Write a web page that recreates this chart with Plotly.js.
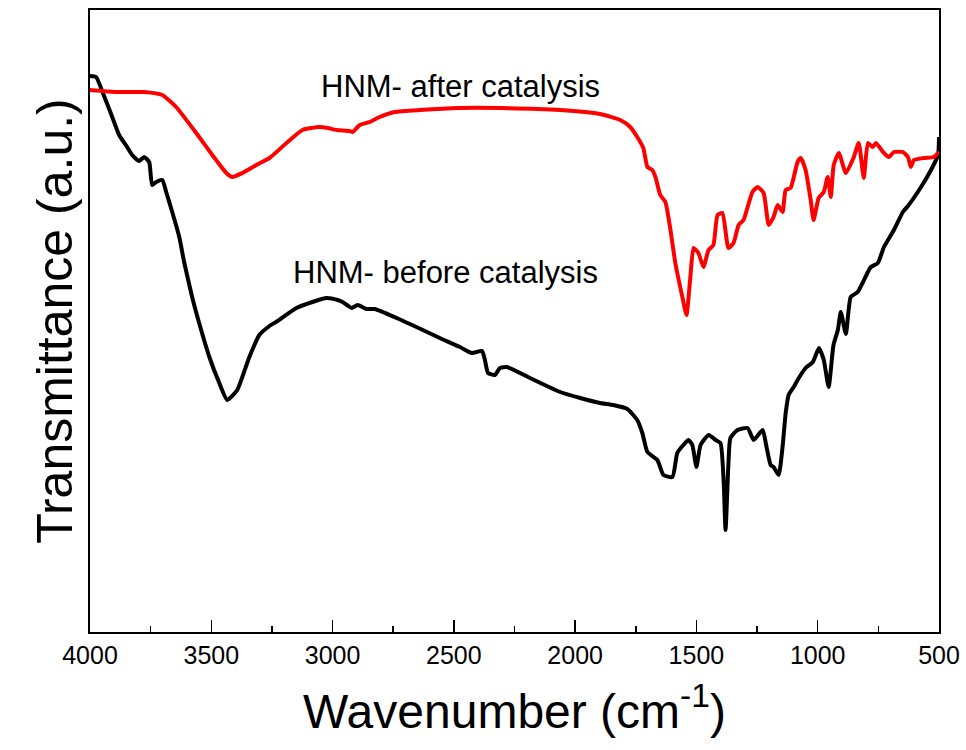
<!DOCTYPE html>
<html>
<head>
<meta charset="utf-8">
<script src="https://cdn.plot.ly/plotly-3.0.1.min.js"></script>
<style>html,body{margin:0;padding:0;background:#fff;}#chart{width:966px;height:750px;}</style>
</head>
<body>
<div id="chart"></div>
<script>
// HNM- before catalysis (black): wavenumber (cm-1) and transmittance (a.u.)
const beforeWavenumber = [4000,3975,3942,3913,3880,3847,3826,3798,3777,3756,3744,3727,3702,3686,3661,3632,3612,3579,3550,3508,3467,3434,3393,3343,3302,3260,3227,3149,3083,3025,2979,2959,2921,2897,2860,2826,2736,2628,2558,2475,2426,2384,2372,2359,2331,2310,2281,2186,2062,1979,1897,1843,1785,1744,1723,1702,1661,1636,1599,1579,1554,1533,1517,1500,1483,1450,1421,1401,1388,1380,1368,1360,1331,1289,1264,1227,1211,1194,1182,1161,1145,1132,1120,1099,1078,1050,1020,995,975,955,935,917,905,884,864,835,793,781,752,727,686,649,628,574,533,504,500];
const beforeT = [556,555,536,518,497,485,477,471,475,470,447,450,452,440,420,395,370,335,309,275,249,232,242,275,297,306,311,324,330,334,332,330,324,327,323,323,314,302,294,285,279,281,272,259,257,264,265,254,240,234,229,227,223,212,199,180,172,157,155,179,187,192,187,165,187,197,192,189,152,102,169,194,202,204,192,202,185,167,165,157,185,219,237,245,254,264,270,284,272,245,287,302,320,298,335,340,360,365,369,385,402,420,426,445,462,477,495];

// HNM- after catalysis (red)
const afterWavenumber = [4000,3888,3777,3702,3645,3562,3496,3438,3413,3372,3314,3260,3190,3124,3054,3021,2983,2930,2917,2888,2847,2806,2744,2640,2475,2310,2062,1897,1814,1773,1744,1719,1702,1682,1669,1649,1628,1607,1587,1558,1541,1525,1512,1492,1471,1450,1430,1413,1393,1368,1347,1326,1306,1269,1248,1223,1202,1182,1165,1145,1132,1112,1083,1070,1050,1029,1017,996,975,959,946,934,913,884,851,831,810,793,773,760,731,707,686,649,628,616,603,562,521,500];
const afterT = [542,540,540,537,525,499,477,459,455,459,467,474,489,502,505,504,502,501,500,507,510,515,520,522,524,524,522,518,512,505,495,484,465,462,455,437,430,402,369,335,317,355,384,379,365,382,387,417,419,384,389,407,412,440,445,439,407,415,427,420,442,444,470,474,462,432,412,434,440,455,435,467,479,459,475,489,454,489,485,489,480,475,480,480,475,465,472,474,475,480];

const seriesNames = ["HNM- before catalysis", "HNM- after catalysis"];

const traces = [
  {x: beforeWavenumber, y: beforeT, type: 'scatter', mode: 'lines', name: seriesNames[0],
   line: {color: '#000000', width: 4, shape: 'spline', smoothing: 0.5}},
  {x: afterWavenumber, y: afterT, type: 'scatter', mode: 'lines', name: seriesNames[1],
   line: {color: '#ff0000', width: 4, shape: 'spline', smoothing: 0.5}}
];

const layout = {
  width: 966, height: 750,
  margin: {l: 90, r: 27, t: 10, b: 118},
  paper_bgcolor: '#ffffff', plot_bgcolor: '#ffffff',
  showlegend: false,
  xaxis: {
    range: [4000, 500], tickmode: 'array',
    tickvals: [4000,3500,3000,2500,2000,1500,1000,500],
    ticktext: ['4000','3500','3000','2500','2000','1500','1000','500'],
    ticks: 'inside', ticklen: 12, tickwidth: 1.5, tickcolor: '#000',
    minor: {ticks: 'inside', ticklen: 6, tickwidth: 1.5, tickcolor: '#000', dtick: 250, tick0: 500},
    showline: true, linecolor: '#000', linewidth: 2, mirror: true,
    showgrid: false, zeroline: false,
    tickfont: {family: 'Liberation Sans, Arial, sans-serif', size: 25, color: '#000'},
    title: {text: 'Wavenumber (cm<sup>-1</sup>)', standoff: 26,
      font: {family: 'Liberation Sans, Arial, sans-serif', size: 48, color: '#000'}}
  },
  yaxis: {
    range: [0, 622], showticklabels: false, ticks: '',
    showline: true, linecolor: '#000', linewidth: 2, mirror: true,
    showgrid: false, zeroline: false,
    title: {text: 'Transmittance (a.u.)', standoff: 0,
      font: {family: 'Liberation Sans, Arial, sans-serif', size: 50, color: '#000'}}
  },
  annotations: [
    {x: 2471, y: 546, xref: 'x', yref: 'y', text: 'HNM- after catalysis', showarrow: false,
     font: {family: 'Liberation Sans, Arial, sans-serif', size: 31, color: '#000'}},
    {x: 2533, y: 360, xref: 'x', yref: 'y', text: 'HNM- before catalysis', showarrow: false,
     font: {family: 'Liberation Sans, Arial, sans-serif', size: 31, color: '#000'}}
  ]
};

Plotly.newPlot('chart', traces, layout, {displayModeBar: false, staticPlot: true});
</script>
</body>
</html>
